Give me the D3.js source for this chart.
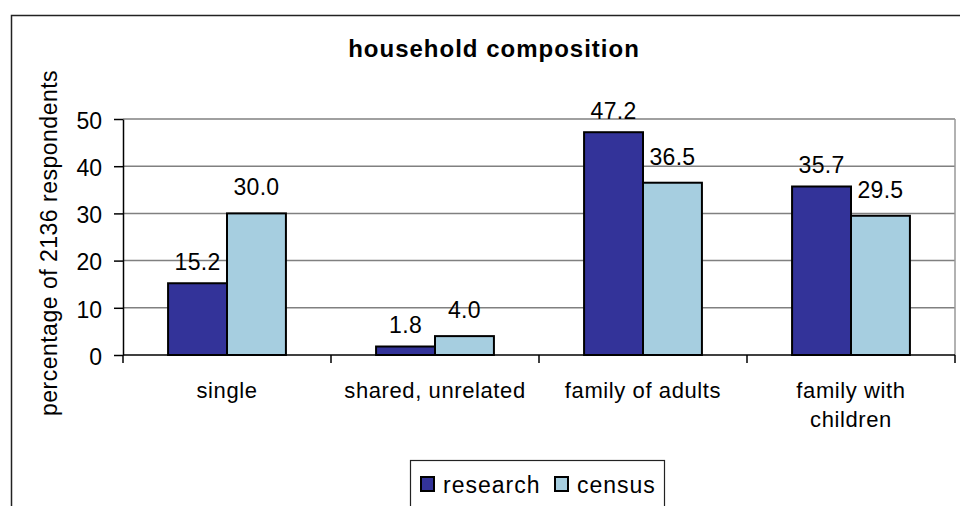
<!DOCTYPE html>
<html>
<head>
<meta charset="utf-8">
<script src="https://cdn.jsdelivr.net/npm/d3@7/dist/d3.min.js"></script>
<style>
  html, body { margin: 0; padding: 0; background: #fff; }
  svg { display: block; font-family: "Liberation Sans", Arial, sans-serif; }
</style>
</head>
<body>
<svg id="chart" width="960" height="506"></svg>
<script>
// Household composition: survey sample vs. census
const categories = ["single", "shared, unrelated", "family of adults", "family with children"];
const categoryLines = [["single"], ["shared, unrelated"], ["family of adults"], ["family with", "children"]];
const seriesNames = ["research", "census"];
const research = [15.2, 1.8, 47.2, 35.7];
const census = [30.0, 4.0, 36.5, 29.5];
const yTicks = [0, 10, 20, 30, 40, 50];
const colors = ["#333399", "#a6cee0"];
const labelGap = [13.5, 18];   // distance from bar top to label baseline, per series

const svg = d3.select("#chart");

// outer chart frame (runs past the bottom/right edge of the view)
svg.append("rect")
  .attr("x", 11.5).attr("y", 15.5)
  .attr("width", 1000).attr("height", 600)
  .attr("fill", "none").attr("stroke", "#222").attr("stroke-width", 1.5);

const plot = { left: 123, right: 955, top: 119, bottom: 355 };

const x = d3.scaleBand().domain(categories).range([plot.left, plot.right]).paddingInner(0).paddingOuter(0);
const inner = d3.scaleBand().domain(seriesNames).range([0, x.bandwidth()]).paddingOuter(0.765).paddingInner(0);
const y = d3.scaleLinear().domain([0, 50]).range([plot.bottom, plot.top]);

// gridlines
svg.append("g").selectAll("line").data(yTicks.slice(1)).join("line")
  .attr("x1", plot.left).attr("x2", plot.right)
  .attr("y1", d => y(d)).attr("y2", d => y(d))
  .attr("stroke", "#808080").attr("stroke-width", 1.5);

// plot area border (right side)
svg.append("line")
  .attr("x1", plot.right).attr("x2", plot.right)
  .attr("y1", plot.top).attr("y2", plot.bottom)
  .attr("stroke", "#999").attr("stroke-width", 1.5);

// bars
const data = categories.map((c, i) => ({ cat: c, values: [research[i], census[i]] }));
const groups = svg.append("g").selectAll("g").data(data).join("g")
  .attr("transform", d => `translate(${x(d.cat)},0)`);

groups.selectAll("rect").data(d => d.values.map((v, j) => ({ v, s: seriesNames[j], j }))).join("rect")
  .attr("x", d => inner(d.s))
  .attr("y", d => y(d.v))
  .attr("width", inner.bandwidth())
  .attr("height", d => y(0) - y(d.v))
  .attr("fill", d => colors[d.j])
  .attr("stroke", "#000").attr("stroke-width", 2);

// value labels
groups.selectAll("text").data(d => d.values.map((v, j) => ({ v, s: seriesNames[j], j }))).join("text")
  .attr("x", d => inner(d.s) + inner.bandwidth() / 2)
  .attr("y", d => y(d.v) - labelGap[d.j])
  .attr("text-anchor", "middle")
  .attr("font-size", 23).attr("letter-spacing", 0.3)
  .attr("fill", "#000")
  .text(d => d.v.toFixed(1));

// y axis
const yAxis = d3.axisLeft(y).tickValues(yTicks).tickSize(9).tickPadding(12).tickSizeOuter(0);
const gy = svg.append("g").attr("transform", `translate(${plot.left},0)`).call(yAxis);
gy.select(".domain").attr("stroke", "#000").attr("stroke-width", 1.5);
gy.selectAll(".tick line").attr("stroke", "#000").attr("stroke-width", 1.5);
gy.selectAll(".tick text").attr("font-size", 23).attr("fill", "#000")
  .attr("font-family", "Liberation Sans, Arial, sans-serif").attr("dy", "0.4em");

// x axis with ticks at category boundaries
const xAxisLine = svg.append("g");
xAxisLine.append("line")
  .attr("x1", plot.left).attr("x2", plot.right)
  .attr("y1", plot.bottom).attr("y2", plot.bottom)
  .attr("stroke", "#000").attr("stroke-width", 1.5);
const boundaries = categories.map(c => x(c)).concat([plot.right]);
xAxisLine.selectAll("line.tk").data(boundaries).join("line").attr("class", "tk")
  .attr("x1", d => d).attr("x2", d => d)
  .attr("y1", plot.bottom).attr("y2", plot.bottom + 8)
  .attr("stroke", "#000").attr("stroke-width", 1.5);

// category labels
const catText = svg.append("g").selectAll("text").data(categories).join("text")
  .attr("x", d => x(d) + x.bandwidth() / 2)
  .attr("y", 398)
  .attr("text-anchor", "middle")
  .attr("font-size", 22).attr("letter-spacing", 0.6)
  .attr("fill", "#000");
catText.each(function (d, i) {
  const t = d3.select(this);
  categoryLines[i].forEach((line, k) => {
    t.append("tspan").attr("x", x(d) + x.bandwidth() / 2).attr("dy", k === 0 ? 0 : 28.5).text(line);
  });
});

// title
svg.append("text")
  .attr("x", 494).attr("y", 57)
  .attr("text-anchor", "middle")
  .attr("font-size", 24).attr("font-weight", "bold").attr("letter-spacing", 1)
  .attr("fill", "#000")
  .text("household composition");

// y axis title
svg.append("text")
  .attr("transform", "translate(57,243) rotate(-90)")
  .attr("text-anchor", "middle")
  .attr("font-size", 23).attr("letter-spacing", 0.5)
  .attr("fill", "#000")
  .text("percentage of 2136 respondents");

// legend
const legend = svg.append("g");
legend.append("rect")
  .attr("x", 410.5).attr("y", 460.5).attr("width", 254).attr("height", 80)
  .attr("fill", "#fff").attr("stroke", "#222").attr("stroke-width", 1.2);
const legendItems = [{ name: "research", sx: 421, tx: 443 }, { name: "census", sx: 555, tx: 577 }];
legendItems.forEach((it, i) => {
  legend.append("rect")
    .attr("x", it.sx).attr("y", 477).attr("width", 13).attr("height", 14)
    .attr("fill", colors[i]).attr("stroke", "#000").attr("stroke-width", 2);
  legend.append("text")
    .attr("x", it.tx).attr("y", 493)
    .attr("font-size", 23).attr("letter-spacing", 1).attr("fill", "#000")
    .text(it.name);
});
</script>
</body>
</html>
